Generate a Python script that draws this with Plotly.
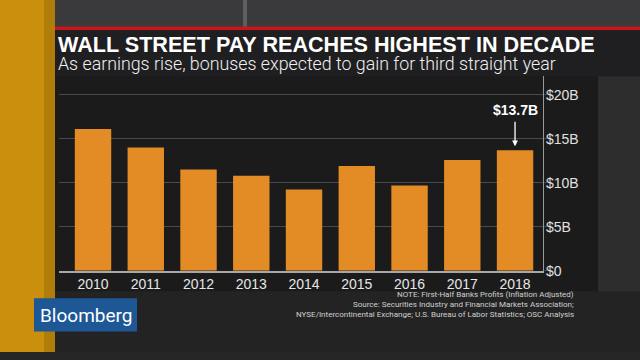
import plotly.graph_objects as go

years = ["2010", "2011", "2012", "2013", "2014", "2015", "2016", "2017", "2018"]
profits_b = [16.1, 14.0, 11.5, 10.8, 9.25, 11.9, 9.7, 12.6, 13.7]
y_ticks = [0, 5, 10, 15, 20]
y_tick_labels = ["$0", "$5B", "$10B", "$15B", "$20B"]

title = "WALL STREET PAY REACHES HIGHEST IN DECADE"
subtitle = "As earnings rise, bonuses expected to gain for third straight year"
callout = "$13.7B"
notes = [
    "NOTE: First-Half Banks Profits (Inflation Adjusted)",
    "Source: Securities Industry and Financial Markets Association;",
    "NYSE/Intercontinental Exchange; U.S. Bureau of Labor Statistics; OSC Analysis",
]

W, H = 640, 360
def px(x):
    return x / W
def py(y):
    return 1 - y / H

BAR = "#e38c26"
FONT = "Liberation Sans"

fig = go.Figure()
fig.add_trace(go.Bar(x=years, y=profits_b, marker=dict(color=BAR, line=dict(width=0)),
                     width=0.69, hoverinfo="x+y"))

def rect(x0, y0, x1, y1, color):
    fig.add_shape(type="rect", xref="paper", yref="paper", x0=px(x0), x1=px(x1),
                  y0=py(y0), y1=py(y1), fillcolor=color, line=dict(width=0), layer="below")

# background pieces
rect(0, 0, 640, 360, "#262627")
rect(55, 0, 640, 29, "#3a3a3c")
rect(243, 0, 247, 29, "#5e5e60")
rect(598, 78, 640, 300, "#2d2d2e")
rect(55, 78, 598, 298, "#1b1b1c")
rect(55, 298, 640, 360, "#232324")
rect(0, 0, 55, 360, "#c98f0d")
rect(44, 0, 55, 360, "#b07c0a")
rect(55, 27, 640, 31, "#c4161c")
rect(55, 31, 640, 78, "#1f1f21")
rect(34, 305, 137, 339, "#1d5796")

fig.add_annotation(xref="paper", yref="paper", x=px(56), y=py(45), text="<b>" + title + "</b>",
                   showarrow=False, xanchor="left", yanchor="middle",
                   font=dict(family=FONT, size=21.6, color="#ffffff"))
fig.add_annotation(xref="paper", yref="paper", x=px(56), y=py(65), text=subtitle,
                   showarrow=False, xanchor="left", yanchor="middle",
                   font=dict(family="Roboto", size=17.8, color="#f0f0f0", weight=300))
fig.add_annotation(xref="paper", yref="paper", x=px(85.5), y=py(322.5), text="Bloomberg",
                   showarrow=False, xanchor="center", yanchor="middle",
                   font=dict(family="Roboto", size=19, color="#ffffff"))
for i, line in enumerate(notes):
    fig.add_annotation(xref="paper", yref="paper", x=px(576), y=py(301 + 10.5 * i), text=line,
                       showarrow=False, xanchor="right", yanchor="middle",
                       font=dict(family="Roboto", size=8, color="#d0d0d0"))

# callout on the last bar: label + arrow
last = len(years) - 1
fig.add_annotation(x=last, y=profits_b[last], xref="x", yref="y", text="",
                   showarrow=True, arrowhead=2, arrowsize=0.9, arrowwidth=1.3, arrowcolor="#ffffff",
                   ax=0, ay=-30, standoff=4)
fig.add_annotation(x=last, y=profits_b[last], xref="x", yref="y", text="<b>" + callout + "</b>",
                   showarrow=False, yshift=40, xanchor="center", yanchor="middle",
                   font=dict(family=FONT, size=14, color="#ffffff"))

fig.update_layout(
    width=W, height=H, margin=dict(l=0, r=0, t=0, b=0),
    paper_bgcolor="#262627", plot_bgcolor="rgba(0,0,0,0)",
    showlegend=False, bargap=0.3,
    xaxis=dict(domain=[px(59), px(543)], type="category", range=[-0.645, 8.53],
               showgrid=False, showline=True, linecolor="#a8a8a8", linewidth=1.5,
               ticks="", tickfont=dict(family=FONT, size=14, color="#e6e6e6"), fixedrange=True),
    yaxis=dict(domain=[py(277), py(78)], range=[0, 22.1], side="right",
               tickvals=y_ticks, ticktext=y_tick_labels,
               showgrid=True, gridcolor="#4a4a4c", gridwidth=1.2,
               showline=True, linecolor="#9a9a9a", linewidth=1.2,
               ticks="outside", ticklen=3, tickcolor="#4a4a4c", zeroline=False,
               ticklabelstandoff=-4,
               tickfont=dict(family=FONT, size=14, color="#e0e0e0"), fixedrange=True),
)

css = ("var s=document.createElement('style');"
       "s.textContent='html,body{margin:0;padding:0;overflow:hidden;width:640px;height:360px;}';"
       "document.head.appendChild(s);")
fig.write_html("out.html", post_script=css, config={"displayModeBar": False})
